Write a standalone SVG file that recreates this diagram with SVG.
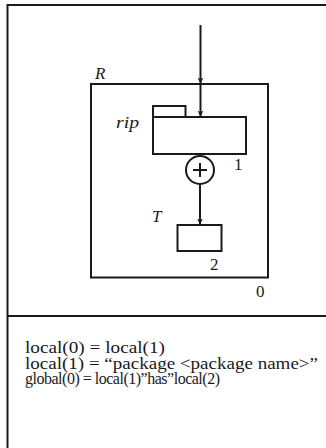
<svg xmlns="http://www.w3.org/2000/svg" width="326" height="448" viewBox="0 0 326 448">
<defs>
<style>
.ln{fill:none;stroke:#1a1a1a;stroke-width:2}
.bx{fill:#fff;stroke:#1a1a1a;stroke-width:2}
.it{font-family:"Liberation Serif","Times New Roman",serif;font-style:italic;font-size:17px;fill:#1a1a1a}
.nm{font-family:"Liberation Serif","Times New Roman",serif;font-size:17px;fill:#1a1a1a}
.tx{font-family:"Liberation Serif","Times New Roman",serif;font-size:16px;fill:#1a1a1a}
</style>
<marker id="ah" viewBox="0 0 10 10" refX="10" refY="5" markerWidth="6" markerHeight="7" markerUnits="userSpaceOnUse" orient="auto">
<path d="M0,0 L10,5 L0,10 L3,5 Z" fill="#1a1a1a"/>
</marker>
</defs>
<g id="frame">
<path class="ln" d="M326,5 H7.5 V448"/>
<line class="ln" x1="7.5" y1="316" x2="326" y2="316"/>
</g>
<g id="R">
<rect class="ln" x="91" y="84" width="177" height="193.5"/>
<text class="it" x="95" y="79">R</text>
<text class="nm" x="256" y="297">0</text>
</g>
<g id="rip">
<rect class="bx" x="153" y="106" width="32.5" height="11"/>
<rect class="bx" x="153" y="117" width="93" height="37"/>
<text class="it" x="116" y="128" textLength="23" lengthAdjust="spacingAndGlyphs">rip</text>
<text class="nm" x="234" y="170">1</text>
</g>
<g id="plus">
<circle class="bx" cx="200" cy="170" r="14"/>
<path class="ln" d="M193,170 H207 M200,163 V177" stroke-width="1.5"/>
</g>
<g id="T">
<rect class="bx" x="177.5" y="225" width="44" height="26"/>
<text class="it" x="152" y="222">T</text>
<text class="nm" x="210" y="270">2</text>
</g>
<g id="connectors">
<line class="ln" x1="200.5" y1="25" x2="200.5" y2="83.5" marker-end="url(#ah)"/>
<line class="ln" x1="200.5" y1="84" x2="200.5" y2="116.5" marker-end="url(#ah)"/>
<line class="ln" x1="200" y1="184" x2="200" y2="224.5" marker-end="url(#ah)"/>
</g>
<g id="notes">
<text class="tx" x="25" y="353" textLength="140" lengthAdjust="spacingAndGlyphs">local(0) = local(1)</text>
<text class="tx" x="25" y="368.5" textLength="293" lengthAdjust="spacingAndGlyphs">local(1) = “package &lt;package name&gt;”</text>
<text class="tx" x="25" y="384" textLength="195" lengthAdjust="spacing">global(0) = local(1)”has”local(2)</text>
</g>
</svg>
